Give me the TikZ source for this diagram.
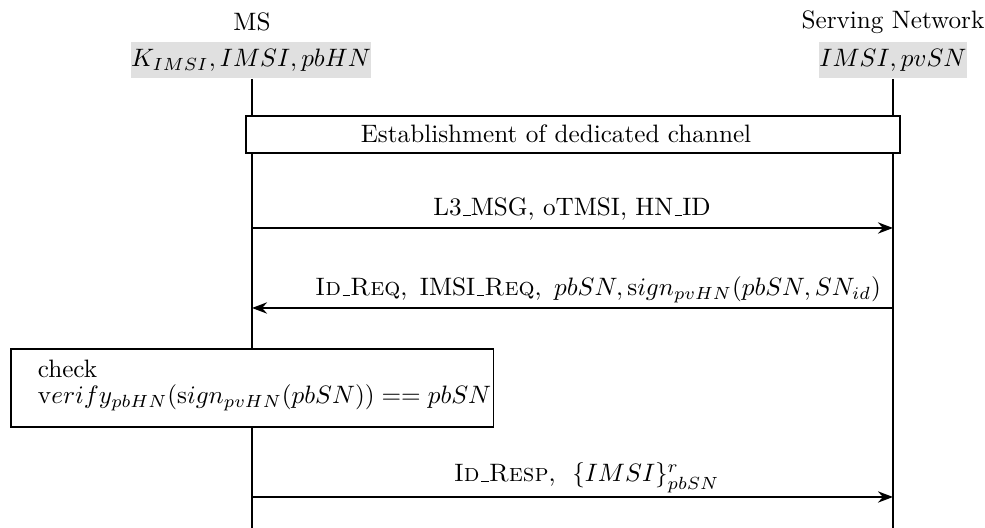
\documentclass[tikz,border=0pt]{standalone}
\usetikzlibrary{arrows.meta}
\newcommand\usc{\leavevmode\kern.06em\vbox{\hrule width.3em}}
\begin{document}
\begin{tikzpicture}[x=0.397pt,y=-0.397pt,
  line width=0.6pt,
  actor/.style={inner sep=0pt},
  keybox/.style={fill=black!12, inner sep=0pt, minimum height=14.3pt},
  framebox/.style={draw, fill=white, line width=0.6pt, inner sep=0pt},
  msg/.style={-{Stealth[length=6pt,width=4.5pt,inset=2pt]}},
  lbl/.style={inner sep=0pt, anchor=base}]
\useasboundingbox (0,0) rectangle (985,528);
% actors
\node[actor] (ms) at (252,22) {MS};
\node[actor] (sn) at (893,22) {Serving Network};
\node[keybox, minimum width=90.5pt] (msk) at (251,60) {$K_{IMSI}, IMSI, pbHN$};
\node[keybox, minimum width=58pt] (snk) at (893,60) {$IMSI, pvSN$};
% lifelines
\coordinate (msend) at (252,528);
\coordinate (snend) at (893,528);
\draw (msk.south -| msend) -- (msend);
\draw (snk.south -| snend) -- (snend);
% establishment box
\node[framebox, minimum width=259.6pt, minimum height=14.7pt] (est) at (573,134.5) {};
\node[inner sep=0pt] (estt) at (556,134) {Establishment of dedicated channel};
% message 1
\coordinate (m1a) at (252,228);
\coordinate (m1b) at (893,228);
\draw[msg] (m1a) -- (m1b);
\node[lbl] (l1) at (572,216) {L3\usc MSG, oTMSI, HN\usc ID};
% message 2
\coordinate (m2a) at (893,308);
\coordinate (m2b) at (252,308);
\draw[msg] (m2a) -- (m2b);
\node[lbl] (l2) at (598,296) {\textsc{Id\usc Req},\hspace{5pt}IMSI\usc\textsc{Req},\hspace{5pt}$pbSN, \mathrm{s}ign_{pvHN}(pbSN, SN_{id})$};
% check box
\node[framebox, minimum width=191.7pt, minimum height=31pt, anchor=north west] (chk) at (10,348) {};
\node[inner sep=0pt, anchor=base west] (c1) at (37,378) {check};
\node[inner sep=0pt, anchor=base west] (c2) at (37,404) {$\mathrm{v}erify_{pbHN}(\mathrm{s}ign_{pvHN}(pbSN)) == pbSN$};
% message 3
\coordinate (m3a) at (252,497);
\coordinate (m3b) at (893,497);
\draw[msg] (m3a) -- (m3b);
\node[lbl, anchor=base west] (l3) at (453,482) {\textsc{Id\usc Resp}, \ $\{IMSI\}^r_{pbSN}$};
\end{tikzpicture}
\end{document}
